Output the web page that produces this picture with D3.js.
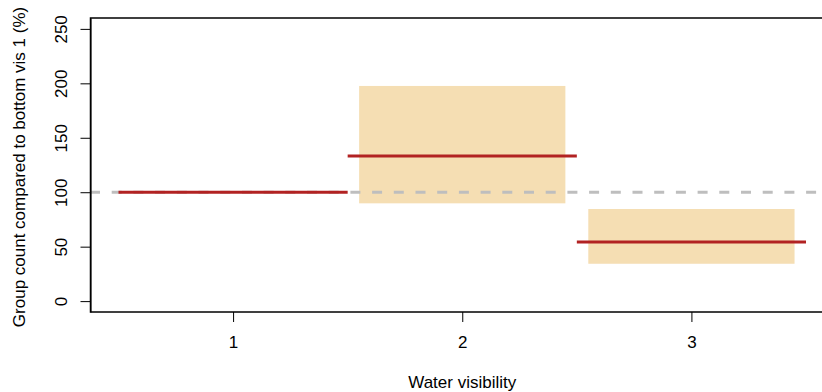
<!DOCTYPE html>
<html>
<head>
<meta charset="utf-8">
<script src="https://cdn.jsdelivr.net/npm/d3@7"></script>
<style>
  body { margin: 0; background: #fff; }
  text { font-family: "Liberation Sans", Arial, sans-serif; fill: #000; }
</style>
</head>
<body>
<svg id="chart" width="822" height="392"></svg>
<script>
"use strict";

// visibility classes and estimates (% of class 1)
var visClasses = [1, 2, 3],
    estimates = [100, 133.3, 54.2],
    ciLow = [null, 89.8, 34.3],
    ciHigh = [null, 197.6, 84.6];

var yTicks = [0, 50, 100, 150, 200, 250],
    refLevel = 100;

var width = 822, height = 392,
    plot = { left: 91, top: 18, right: 833.5, bottom: 312 };

var svg = d3.select("#chart");

var x = d3.scaleLinear().domain([0.38, 3.62]).range([plot.left, plot.right]);
var y = d3.scaleLinear().domain([-10, 260]).range([plot.bottom, plot.top]);

// confidence boxes
svg.selectAll(".ci")
  .data(visClasses.filter(function(d, i) { return ciLow[i] != null; }))
  .enter()
  .append("rect")
  .attr("class", "ci")
  .attr("x", function(d) { return x(d - 0.45); })
  .attr("width", function(d) { return x(d + 0.45) - x(d - 0.45); })
  .attr("y", function(d) { return y(ciHigh[d - 1]); })
  .attr("height", function(d) { return y(ciLow[d - 1]) - y(ciHigh[d - 1]); })
  .attr("fill", "#f5deb3");

// reference line
svg.append("line")
  .attr("x1", plot.left - 1)
  .attr("x2", width)
  .attr("y1", y(refLevel))
  .attr("y2", y(refLevel))
  .attr("stroke", "#bebebe")
  .attr("stroke-width", 3)
  .attr("stroke-dasharray", "10,11.7");

// estimate lines
svg.selectAll(".est").data(visClasses)
  .enter()
  .append("line")
  .attr("class", "est")
  .attr("x1", function(d) { return x(d - 0.5); })
  .attr("x2", function(d) { return x(d + 0.5); })
  .attr("y1", function(d, i) { return y(estimates[i]); })
  .attr("y2", function(d, i) { return y(estimates[i]); })
  .attr("stroke", "#b22222")
  .attr("stroke-width", 3);

// box
svg.append("rect")
  .attr("x", plot.left - 0.5)
  .attr("y", plot.top)
  .attr("width", plot.right - plot.left + 10)
  .attr("height", plot.bottom - plot.top)
  .attr("fill", "none")
  .attr("stroke", "#000")
  .attr("stroke-width", 1.5);

// y axis
var yAxis = svg.append("g")
  .attr("transform", "translate(" + (plot.left - 0.5) + ",0)")
  .call(d3.axisLeft(y).tickValues(yTicks).tickSize(10).tickSizeOuter(0).tickPadding(0));
yAxis.select(".domain").attr("stroke-width", 1);
yAxis.selectAll(".tick text").remove();
yAxis.selectAll(".tick").append("text")
  .attr("transform", "translate(-24,0) rotate(-90)")
  .attr("text-anchor", "middle")
  .style("font-size", "17px")
  .text(function(d) { return d; });

// x axis
var xAxis = svg.append("g")
  .attr("transform", "translate(0," + plot.bottom + ")")
  .call(d3.axisBottom(x).tickValues(visClasses).tickFormat(d3.format("d"))
    .tickSize(10).tickSizeOuter(0).tickPadding(0));
xAxis.select(".domain").remove();
xAxis.selectAll(".tick text")
  .attr("dy", null)
  .attr("y", 36)
  .style("font-size", "17px")
  .attr("font-family", "Liberation Sans, Arial, sans-serif");

// titles
svg.append("text")
  .attr("x", x(2))
  .attr("y", 388)
  .attr("text-anchor", "middle")
  .style("font-size", "17px")
  .text("Water visibility");

svg.append("text")
  .attr("transform", "translate(25," + ((plot.top + plot.bottom) / 2 + 2) + ") rotate(-90)")
  .attr("text-anchor", "middle")
  .style("font-size", "17px")
  .text("Group count compared to bottom vis 1 (%)");
</script>
</body>
</html>
